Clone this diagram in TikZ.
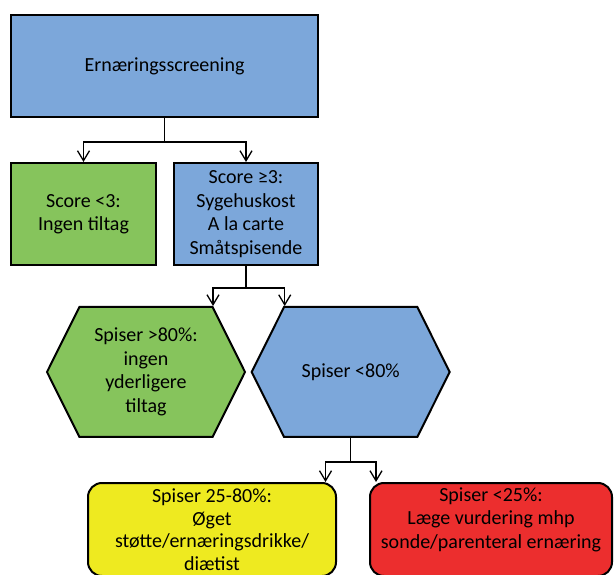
\documentclass[tikz,border=0pt]{standalone}
\usepackage{fontspec}
\setmainfont{Carlito}
\usetikzlibrary{shapes.symbols,arrows.meta}
\definecolor{boxblue}{RGB}{124,167,218}
\definecolor{boxgreen}{RGB}{134,196,92}
\definecolor{boxyellow}{RGB}{238,234,32}
\definecolor{boxred}{RGB}{236,46,46}
\begin{document}
\begin{tikzpicture}[x=1pt,y=1pt,font=\fontsize{20}{23.5}\selectfont]
\tikzstyle{box}=[draw=black,line width=2pt,align=center,inner sep=2pt]
\tikzstyle{hexa}=[box,shape=signal,signal to=west and east,signal pointer angle=127,minimum width=198pt,minimum height=130pt]
\tikzstyle{flow}=[line width=1.3pt,-{Straight Barb[length=10pt,width=12pt]}]
\useasboundingbox (0,0) rectangle (614,574);
\clip (0,0) rectangle (614,574);
\node[box,fill=boxblue,minimum width=307pt,minimum height=102pt] (S) at (164.5,508) {Ernæringsscreening};
\node[box,fill=boxgreen,minimum width=145pt,minimum height=102pt] (L) at (83.5,360) {Score <3:\\Ingen tiltag};
\node[box,fill=boxblue,minimum width=144pt,minimum height=102pt] (H) at (246,360) {Score ≥3:\\Sygehuskost\\A la carte\\Småtspisende};
\node[hexa,fill=boxgreen] (G) at (146,202) {Spiser >80\%:\\ingen\\yderligere\\tiltag};
\node[hexa,fill=boxblue] (B) at (350.7,202) {Spiser <80\%};
\node[box,rounded corners=14pt,fill=boxyellow,minimum width=248pt,minimum height=93pt,font=\fontsize{20}{22.5}\selectfont] (Y) at (212,44.5) {Spiser 25-80\%:\\Øget\\støtte/ernæringsdrikke/\\diætist};
\node[box,rounded corners=14pt,fill=boxred,minimum width=242pt,minimum height=93pt] (R) at (491,44.5) {Spiser <25\%:\\Læge vurdering mhp\\sonde/parenteral ernæring\\\mbox{}};
\coordinate (F1) at ([yshift=-24pt]S.south);
\coordinate (F2) at ([yshift=-22pt]H.south);
\coordinate (F3) at ([yshift=-24pt]B.south);
\draw[line width=1.3pt] (S.south) -- (F1);
\draw[line width=1.3pt] (H.south) -- (F2);
\draw[line width=1.3pt] (B.south) -- (F3);
\foreach \p in {L,H}
	\draw[flow] (F1) -| (\p.north);
\draw[flow] (F2) -| ([xshift=67pt]G.north);
\draw[flow] (F2) -| ([xshift=-66pt]B.north);
\draw[flow] (F3) -| ([xshift=-11.5pt]Y.north east);
\draw[flow] (F3) -| ([xshift=7pt]R.north west);
\end{tikzpicture}
\end{document}
